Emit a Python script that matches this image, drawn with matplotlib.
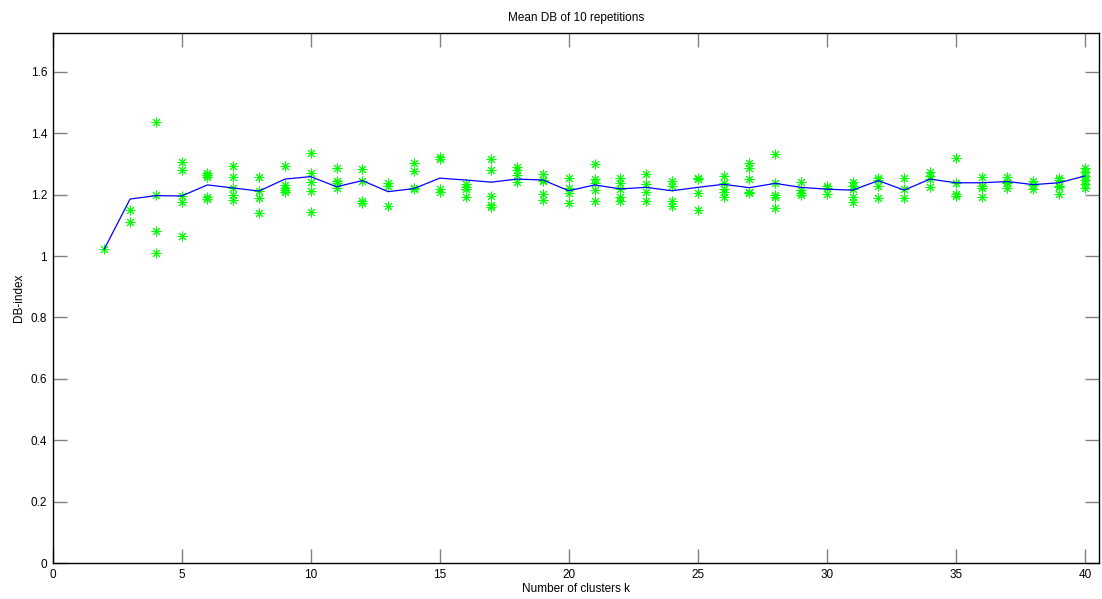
import matplotlib
matplotlib.use('Agg')
import matplotlib.pyplot as plt

plt.rcParams['font.family'] = ['Liberation Sans', 'DejaVu Sans']

# number of clusters
ks = list(range(2, 41))

# DB index of each repetition (overlapping runs collapse onto one point)
db_runs = [
    [1.023],                                   # 2
    [1.150, 1.111],                            # 3
    [1.438, 1.199, 1.083, 1.010],              # 4
    [1.308, 1.280, 1.196, 1.176, 1.066],       # 5
    [1.272, 1.265, 1.257, 1.193, 1.186],       # 6
    [1.295, 1.257, 1.223, 1.199, 1.183],       # 7
    [1.257, 1.212, 1.188, 1.141],              # 8
    [1.295, 1.232, 1.223, 1.215, 1.208],       # 9
    [1.337, 1.270, 1.240, 1.213, 1.144],       # 10
    [1.286, 1.246, 1.237, 1.221],              # 11
    [1.284, 1.245, 1.181, 1.174],              # 12
    [1.237, 1.228, 1.163],                     # 13
    [1.302, 1.277, 1.223, 1.218],              # 14
    [1.322, 1.317, 1.218, 1.209],              # 15
    [1.234, 1.226, 1.219, 1.192],              # 16
    [1.316, 1.280, 1.196, 1.166, 1.161],       # 17
    [1.291, 1.281, 1.264, 1.242],              # 18
    [1.268, 1.248, 1.244, 1.201, 1.183],       # 19
    [1.255, 1.221, 1.205, 1.172],              # 20
    [1.299, 1.250, 1.239, 1.215, 1.181],       # 21
    [1.253, 1.239, 1.218, 1.194, 1.180],       # 22
    [1.267, 1.235, 1.208, 1.181],              # 23
    [1.246, 1.228, 1.181, 1.163],              # 24
    [1.253, 1.251, 1.205, 1.150],              # 25
    [1.262, 1.237, 1.218, 1.210, 1.192],       # 26
    [1.305, 1.286, 1.251, 1.210, 1.205],       # 27
    [1.332, 1.239, 1.199, 1.194, 1.158],       # 28
    [1.243, 1.215, 1.205, 1.199],              # 29
    [1.229, 1.223, 1.202],                     # 30
    [1.243, 1.228, 1.218, 1.194, 1.177],       # 31
    [1.253, 1.248, 1.228, 1.190],              # 32
    [1.253, 1.218, 1.188],                     # 33
    [1.275, 1.261, 1.250, 1.224],              # 34
    [1.319, 1.237, 1.201, 1.196],              # 35
    [1.259, 1.228, 1.221, 1.194],              # 36
    [1.259, 1.243, 1.237, 1.221],              # 37
    [1.245, 1.232, 1.218],                     # 38
    [1.253, 1.248, 1.228, 1.224, 1.201],       # 39
    [1.286, 1.275, 1.261, 1.248, 1.234, 1.221],  # 40
]

# mean DB over the repetitions
db_mean = [1.023, 1.186, 1.197, 1.196, 1.232, 1.222, 1.212, 1.251, 1.259,
           1.226, 1.246, 1.210, 1.220, 1.254, 1.248, 1.241, 1.251, 1.248,
           1.213, 1.232, 1.219, 1.224, 1.213, 1.224, 1.234, 1.223, 1.237,
           1.224, 1.218, 1.215, 1.246, 1.215, 1.251, 1.239, 1.239, 1.243,
           1.233, 1.239, 1.261]

fig = plt.figure(figsize=(11.02, 5.99), dpi=100)
ax = fig.add_axes([0.0478, 0.0601, 0.9495, 0.8848])

xs = [k for k, runs in zip(ks, db_runs) for _ in runs]
ys = [v for runs in db_runs for v in runs]
ax.plot(xs, ys, linestyle='none', marker=(8, 2, 0), markersize=7,
        markeredgewidth=0.7, color=(0, 1, 0))
ax.plot(ks, db_mean, color=(0, 0, 1), linewidth=0.9)

ax.set_xlim(0, 40.55)
ax.set_ylim(0, 1.727)
ax.set_xticks(range(0, 41, 5))
ax.set_yticks([0, 0.2, 0.4, 0.6, 0.8, 1, 1.2, 1.4, 1.6])
ax.set_yticklabels(['0', '0.2', '0.4', '0.6', '0.8', '1', '1.2', '1.4', '1.6'])
ax.tick_params(direction='in', length=10, width=1, color='#808080',
               labelsize=8.5, top=True, right=True, pad=4)
for s in ax.spines.values():
    s.set_linewidth(1)

ax.set_title('Mean DB of 10 repetitions', fontsize=8.5, pad=9)
ax.set_xlabel('Number of clusters k', fontsize=8.5, labelpad=2)
ax.set_ylabel('DB-index', fontsize=8.5, labelpad=4)

fig.savefig('out.png', dpi=100)
